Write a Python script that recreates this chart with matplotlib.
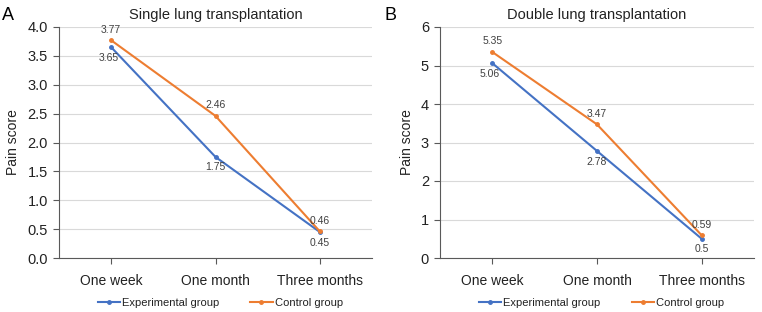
import matplotlib
matplotlib.use("Agg")
import matplotlib.pyplot as plt

plt.rcParams['font.family'] = ['Liberation Sans', 'DejaVu Sans']

categories = ["One week", "One month", "Three months"]
single_exp = [3.65, 1.75, 0.45]
single_ctrl = [3.77, 2.46, 0.46]
double_exp = [5.06, 2.78, 0.5]
double_ctrl = [5.35, 3.47, 0.59]
single_exp_labels = ["3.65", "1.75", "0.45"]
single_ctrl_labels = ["3.77", "2.46", "0.46"]
double_exp_labels = ["5.06", "2.78", "0.5"]
double_ctrl_labels = ["5.35", "3.47", "0.59"]

BLUE = "#4472C4"
ORANGE = "#ED7D31"
TXT = "#404040"

fig = plt.figure(figsize=(7.62, 3.12), dpi=100)
W, H = 762, 312

def make_ax(x0, x1, y_top, y_bot):
    return fig.add_axes([x0 / W, 1 - y_bot / H, (x1 - x0) / W, (y_bot - y_top) / H])

axA = make_ax(59, 372, 27, 258)
axB = make_ax(440, 754, 27, 258)

def draw(ax, exp, ctrl, exp_lab, ctrl_lab, ymax, yticks, yfmt, title, letter, letter_x):
    x = list(range(len(categories)))
    ax.plot(x, exp, color=BLUE, lw=1.5, marker='o', ms=2.5, label="Experimental group")
    ax.plot(x, ctrl, color=ORANGE, lw=1.5, marker='o', ms=2.5, label="Control group")
    ax.set_xlim(-0.5, 2.5)
    ax.set_ylim(0, ymax)
    ax.set_yticks(yticks)
    ax.set_yticklabels([yfmt.format(v) for v in yticks])
    ax.set_xticks(x)
    ax.set_xticklabels(categories)
    ax.grid(axis='y', color='#D9D9D9', lw=0.8)
    ax.set_axisbelow(True)
    for s in ['top', 'right']:
        ax.spines[s].set_visible(False)
    for s in ['left', 'bottom']:
        ax.spines[s].set_color('#595959')
        ax.spines[s].set_linewidth(0.8)
    ax.tick_params(axis='both', colors='#595959', labelcolor='#222222', labelsize=10.5, length=4.5, width=0.8)
    ax.tick_params(axis='x', pad=7, labelsize=10)
    ax.tick_params(axis='y', pad=3.5)
    ax.set_ylabel("Pain score", fontsize=10, color='#222222', labelpad=5)
    ax.set_title(title, fontsize=10.5, color='#222222', pad=6)
    for i in x:
        ax.annotate(ctrl_lab[i], (i, ctrl[i]), xytext=(0, 4), textcoords='offset points',
                    ha='center', va='bottom', fontsize=7.5, color=TXT)
        ax.annotate(exp_lab[i], (i, exp[i]), xytext=(-2 if i == 0 else 0, -4), textcoords='offset points',
                    ha='center', va='top', fontsize=7.5, color=TXT)
    fig.text(letter_x / W, 1 - 15 / H, letter, fontsize=13, color='black', va='center', ha='left')
    leg = ax.legend(loc='center', bbox_to_anchor=(0.515, -45 / 231), ncol=2, frameon=False,
                    fontsize=8, handlelength=2.0, handletextpad=0.2, columnspacing=2.8,
                    borderpad=0, borderaxespad=0)
    for t in leg.get_texts():
        t.set_color('#222222')

draw(axA, single_exp, single_ctrl, single_exp_labels, single_ctrl_labels, 4.0,
     [0, 0.5, 1.0, 1.5, 2.0, 2.5, 3.0, 3.5, 4.0], "{:.1f}", "Single lung transplantation", "A", 2)
draw(axB, double_exp, double_ctrl, double_exp_labels, double_ctrl_labels, 6,
     [0, 1, 2, 3, 4, 5, 6], "{:d}", "Double lung transplantation", "B", 384)

fig.savefig("out.png", dpi=100)
